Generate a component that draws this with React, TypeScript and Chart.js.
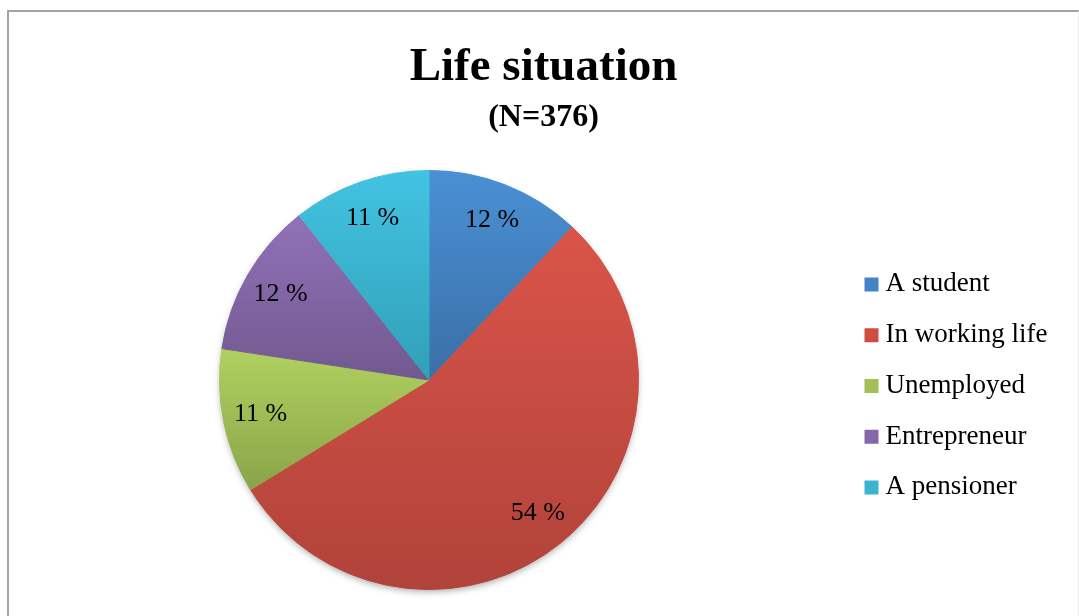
import React, { useEffect, useRef } from 'react';
import { Chart, registerables } from 'chart.js';

Chart.register(...registerables);

// ---- data ----
const categories = ['A student', 'In working life', 'Unemployed', 'Entrepreneur', 'A pensioner'];
const counts = [45, 204, 42, 45, 40];
const topColors = ['#4a90d5', '#da5449', '#b0d160', '#9072b8', '#42c3e2'];
const bottomColors = ['#3a6fa6', '#b1433a', '#8aa448', '#72588f', '#31a0b8'];
const legendColors = ['#4484c6', '#cf4d43', '#a2c055', '#8467a8', '#3bb3d2'];
const titleText = 'Life situation';
const subtitleText = '(N=376)';

const SERIF = "'Liberation Serif', 'Times New Roman', serif";
const PIE_RADIUS = 209.5;
const LABEL_RATIO = 0.82;
const LEGEND_WIDTH = 229;

function sliceGradient(c: any) {
  const chart = c.chart;
  const area = chart.chartArea;
  const i = c.dataIndex;
  if (!area || i === undefined || i === null) return topColors[i || 0];
  const data = c.dataset.data as number[];
  const total = data.reduce((s, v) => s + v, 0);
  let before = 0;
  for (let k = 0; k < i; k++) before += data[k];
  const a0 = -Math.PI / 2 + (before / total) * Math.PI * 2;
  const a1 = a0 + (data[i] / total) * Math.PI * 2;
  const cy = (area.top + area.bottom) / 2;
  const r = PIE_RADIUS;
  const ys = [cy, cy + r * Math.sin(a0), cy + r * Math.sin(a1)];
  [-Math.PI / 2, Math.PI / 2, (3 * Math.PI) / 2].forEach((k) => {
    if (a0 <= k && k <= a1) ys.push(cy + r * Math.sin(k));
  });
  const yMin = Math.min(...ys);
  const yMax = Math.max(...ys);
  const g = chart.ctx.createLinearGradient(0, yMin, 0, yMax);
  g.addColorStop(0, topColors[i]);
  g.addColorStop(1, bottomColors[i]);
  return g;
}

const shadowPlugin = {
  id: 'pieShadow',
  beforeDatasetsDraw(chart: any) {
    const arc = chart.getDatasetMeta(0).data[0];
    if (!arc) return;
    const { x, y, outerRadius } = arc.getProps(['x', 'y', 'outerRadius'], true);
    const ctx = chart.ctx;
    ctx.save();
    ctx.shadowColor = 'rgba(0,0,0,0.35)';
    ctx.shadowBlur = 7;
    ctx.shadowOffsetX = 0;
    ctx.shadowOffsetY = 3;
    ctx.beginPath();
    ctx.arc(x, y, outerRadius - 1, 0, Math.PI * 2);
    ctx.fillStyle = '#ffffff';
    ctx.fill();
    ctx.restore();
  },
};

const labelPlugin = {
  id: 'sliceLabels',
  afterDatasetsDraw(chart: any) {
    const meta = chart.getDatasetMeta(0);
    const data = chart.data.datasets[0].data as number[];
    const total = data.reduce((s, v) => s + v, 0);
    const ctx = chart.ctx;
    ctx.save();
    ctx.font = `26px ${SERIF}`;
    ctx.fillStyle = '#000000';
    ctx.textAlign = 'center';
    ctx.textBaseline = 'middle';
    meta.data.forEach((arc: any, i: number) => {
      const { x, y, startAngle, endAngle, outerRadius } = arc.getProps(
        ['x', 'y', 'startAngle', 'endAngle', 'outerRadius'],
        true
      );
      const mid = (startAngle + endAngle) / 2;
      const rr = outerRadius * LABEL_RATIO;
      ctx.fillText(`${Math.round((data[i] / total) * 100)} %`, x + Math.cos(mid) * rr, y + Math.sin(mid) * rr);
    });
    ctx.restore();
  },
};

export default function App() {
  const canvasRef = useRef<HTMLCanvasElement | null>(null);

  useEffect(() => {
    const canvas = canvasRef.current;
    if (!canvas) return;
    const chart: any = new Chart(canvas, {
      type: 'pie',
      data: {
        labels: categories,
        datasets: [
          {
            data: counts,
            backgroundColor: sliceGradient,
            borderColor: sliceGradient,
            borderWidth: 1,
            radius: PIE_RADIUS,
          } as any,
        ],
      },
      options: {
        responsive: false,
        animation: false,
        devicePixelRatio: 1,
        layout: { padding: { left: 10.75, right: 2.75, top: 0, bottom: 0 } },
        plugins: {
          title: {
            display: true,
            text: titleText,
            color: '#000000',
            font: { family: SERIF, size: 47, weight: 'bold', lineHeight: 1.2 },
            padding: { top: 40, bottom: 0 },
          },
          subtitle: {
            display: true,
            text: subtitleText,
            color: '#000000',
            font: { family: SERIF, size: 32, weight: 'bold', lineHeight: 1.1 },
            padding: { top: 4, bottom: 8.4 },
          },
          legend: {
            position: 'right',
            fullSize: false,
            title: { display: true, text: '', padding: 1, font: { size: 9.8, lineHeight: 1 } },
            labels: {
              usePointStyle: true,
              pointStyle: 'rect',
              boxWidth: 1,
              boxHeight: 14,
              padding: 23.75,
              color: '#000000',
              font: { family: SERIF, size: 27 },
              generateLabels: () =>
                categories.map((text, i) => ({
                  text,
                  fillStyle: legendColors[i],
                  strokeStyle: legendColors[i],
                  lineWidth: 0,
                  hidden: false,
                  index: i,
                  pointStyle: 'rect',
                  fontColor: '#000000',
                })),
            },
          },
          tooltip: { enabled: false },
        },
      } as any,
      plugins: [shadowPlugin, labelPlugin],
    });

    const legend = chart.legend;
    if (legend) {
      const origFit = legend.fit.bind(legend);
      legend.fit = () => {
        origFit();
        if (!legend.isHorizontal()) legend.width = LEGEND_WIDTH;
      };
      chart.update();
    }

    return () => chart.destroy();
  }, []);

  return (
    <div style={{ position: 'fixed', left: 0, top: 0, width: 1079, height: 616, overflow: 'hidden', background: '#ffffff' }}>
      <div
        style={{
          position: 'absolute',
          left: 7,
          top: 10,
          width: 1072,
          height: 700,
          boxSizing: 'border-box',
          borderLeft: '2px solid #a3a3a3',
          borderTop: '2px solid #a3a3a3',
          borderRight: '1px solid #ececec',
        }}
      />
      <canvas
        ref={canvasRef}
        width={1079}
        height={616}
        style={{ position: 'absolute', left: 0, top: 0, width: 1079, height: 616 }}
      />
    </div>
  );
}
